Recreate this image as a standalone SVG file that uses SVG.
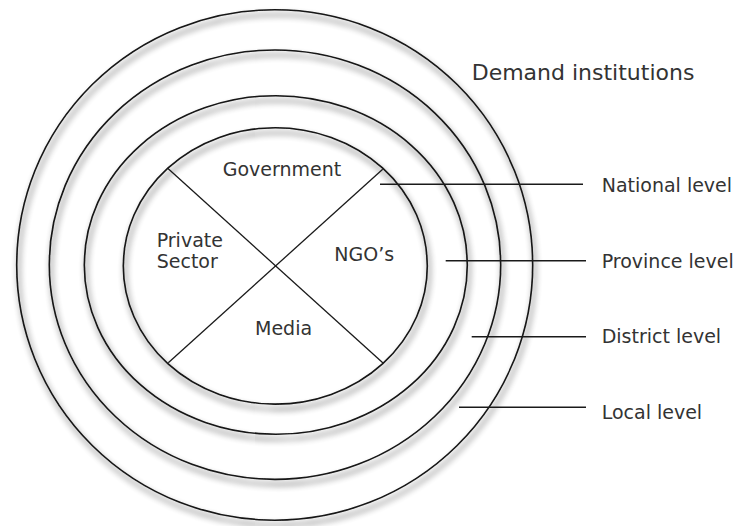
<svg xmlns="http://www.w3.org/2000/svg" width="736" height="526" viewBox="0 0 736 526">
  <style>
    .ring { fill: none; stroke: #141414; stroke-width: 1.6; }
    .div { stroke: #1a1a1a; stroke-width: 1.3; fill: none; }
    .lead { stroke: #1a1a1a; stroke-width: 1.4; fill: none; }
    .lbl { font-family: "DejaVu Sans", "Liberation Sans", sans-serif; font-size: 19px; fill: #333333; }
    .title { font-family: "DejaVu Sans", "Liberation Sans", sans-serif; font-size: 22px; fill: #333333; }
  </style>
  <defs>
    <filter id="shadow" x="-10%" y="-10%" width="125%" height="125%">
      <feGaussianBlur in="SourceAlpha" stdDeviation="3"/>
      <feOffset dx="2" dy="5" result="b"/>
      <feComponentTransfer in="b" result="s">
        <feFuncA type="linear" slope="0.8"/>
      </feComponentTransfer>
      <feMerge>
        <feMergeNode in="s"/>
        <feMergeNode in="SourceGraphic"/>
      </feMerge>
    </filter>
  </defs>
  <rect x="0" y="0" width="736" height="526" fill="#ffffff"/>

  <g id="local-ring" filter="url(#shadow)">
    <ellipse class="ring" cx="274.7" cy="265" rx="258" ry="255.2"/>
  </g>
  <g id="district-ring" filter="url(#shadow)">
    <ellipse class="ring" cx="275" cy="264.7" rx="225.7" ry="214.7"/>
  </g>
  <g id="province-ring" filter="url(#shadow)">
    <ellipse class="ring" cx="275.8" cy="265" rx="191.5" ry="169.3"/>
  </g>
  <g id="national-core" filter="url(#shadow)">
    <ellipse class="ring" cx="275.3" cy="265.9" rx="152" ry="138.2"/>
  </g>

  <g id="sectors">
    <line class="div" x1="167.7" y1="168.3" x2="383.3" y2="363.3"/>
    <line class="div" x1="382.7" y1="169.3" x2="168.3" y2="362.7"/>
  </g>

  <g id="government"><text class="lbl" x="222.7" y="176">Government</text></g>
  <g id="private-sector">
    <text class="lbl" x="156.7" y="247.3">Private</text>
    <text class="lbl" x="156.7" y="268.3">Sector</text>
  </g>
  <g id="ngos"><text class="lbl" x="334.3" y="260.7">NGO’s</text></g>
  <g id="media"><text class="lbl" x="255" y="335">Media</text></g>

  <g id="title"><text class="title" x="471.7" y="80">Demand institutions</text></g>

  <g id="connectors">
    <line class="lead" x1="380" y1="184.3" x2="583" y2="184.3"/>
    <line class="lead" x1="445.7" y1="260.7" x2="586" y2="260.7"/>
    <line class="lead" x1="471.7" y1="336.7" x2="586" y2="336.7"/>
    <line class="lead" x1="459" y1="407.3" x2="586" y2="407.3"/>
  </g>

  <g id="national-label"><text class="lbl" x="601.7" y="191.7">National level</text></g>
  <g id="province-label"><text class="lbl" x="601.7" y="268.3">Province level</text></g>
  <g id="district-label"><text class="lbl" x="601.7" y="343.3">District level</text></g>
  <g id="local-label"><text class="lbl" x="601.7" y="419.3">Local level</text></g>
</svg>
